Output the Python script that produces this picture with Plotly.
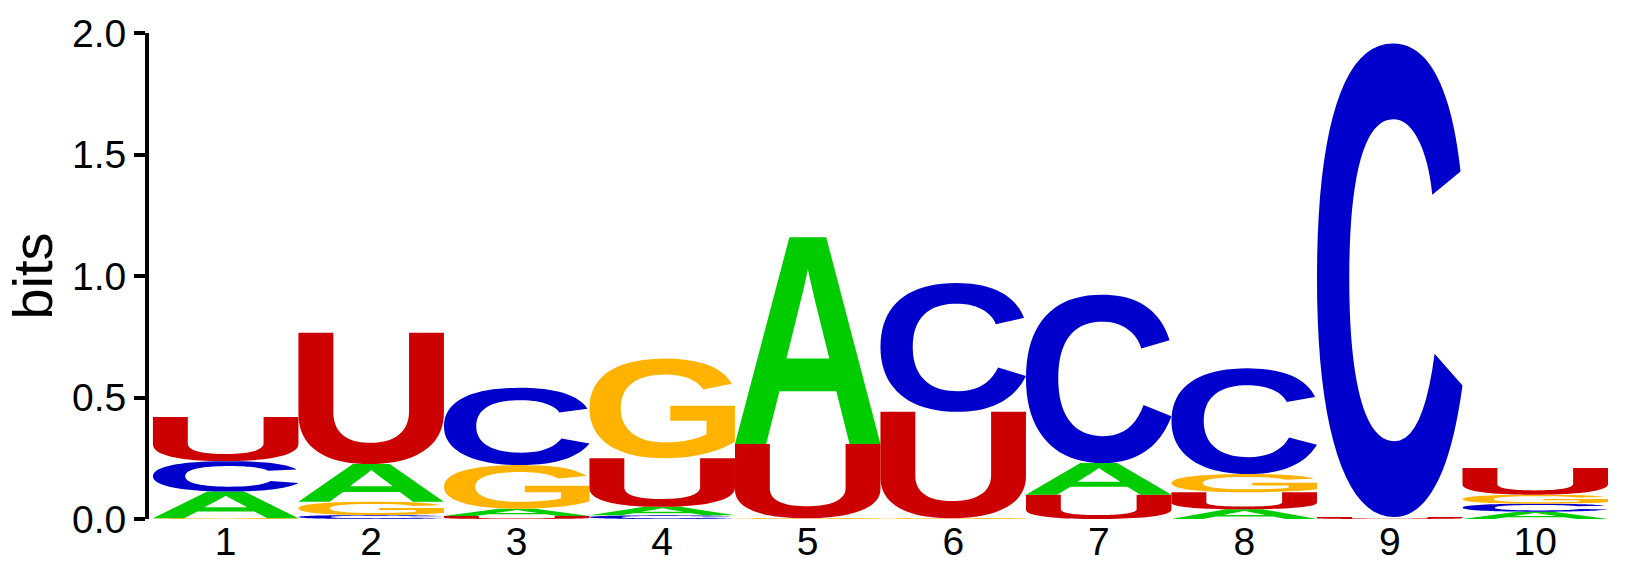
import glob
import os
import struct

import numpy as np
import plotly.graph_objects as go

# ---------------- data (bits per letter, per position) ----------------
positions = [1, 2, 3, 4, 5, 6, 7, 8, 9, 10]
tick_labels = ["1", "2", "3", "4", "5", "6", "7", "8", "9", "10"]
A_bits = [0.110, 0.155, 0.030, 0.035, 0.850, 0.000, 0.130, 0.040, 0.000, 0.030]
C_bits = [0.125, 0.016, 0.318, 0.015, 0.000, 0.530, 0.693, 0.435, 1.949, 0.033]
G_bits = [0.003, 0.055, 0.180, 0.410, 0.003, 0.003, 0.000, 0.075, 0.000, 0.037]
U_bits = [0.182, 0.540, 0.012, 0.200, 0.306, 0.438, 0.100, 0.070, 0.008, 0.110]
y_ticks = [0.0, 0.5, 1.0, 1.5, 2.0]
y_tick_labels = ["0.0", "0.5", "1.0", "1.5", "2.0"]

letter_colors = {"A": "#00CC00", "C": "#0000CC", "G": "#FFB300", "U": "#CC0000"}


# ---------------- glyph outlines from an installed bold sans font ----------------
def find_font():
    pats = ["LiberationSans-Bold.ttf", "Arial_Bold.ttf", "DejaVuSans-Bold.ttf"]
    roots = ["/usr/share/fonts", "/usr/local/share/fonts", os.path.expanduser("~/.fonts")]
    for p in pats:
        for r in roots:
            hits = glob.glob(os.path.join(r, "**", p), recursive=True)
            if hits:
                return hits[0]
    return None


def quad_pts(p0, c, p1, n=10):
    t = np.linspace(0, 1, n + 1)[1:]
    x = (1 - t) ** 2 * p0[0] + 2 * (1 - t) * t * c[0] + t ** 2 * p1[0]
    y = (1 - t) ** 2 * p0[1] + 2 * (1 - t) * t * c[1] + t ** 2 * p1[1]
    return list(zip(x, y))


def contour_to_poly(pts):
    start = next((i for i, p in enumerate(pts) if p[2]), None)
    if start is None:
        mid = ((pts[0][0] + pts[-1][0]) / 2, (pts[0][1] + pts[-1][1]) / 2, True)
        pts = [mid] + pts
        start = 0
    pts = pts[start:] + pts[:start]
    cur = (pts[0][0], pts[0][1])
    out = [cur]
    ctrl = None
    for p in pts[1:] + [pts[0]]:
        q = (p[0], p[1])
        if p[2]:
            if ctrl is None:
                out.append(q)
            else:
                out.extend(quad_pts(cur, ctrl, q))
                ctrl = None
            cur = q
        else:
            if ctrl is None:
                ctrl = q
            else:
                mid = ((ctrl[0] + q[0]) / 2, (ctrl[1] + q[1]) / 2)
                out.extend(quad_pts(cur, ctrl, mid))
                cur = mid
                ctrl = q
    return out


def load_glyphs(path, chars):
    data = open(path, "rb").read()
    num_tables = struct.unpack(">H", data[4:6])[0]
    tables = {}
    for i in range(num_tables):
        tag, _, off, ln = struct.unpack(">4sIII", data[12 + 16 * i:28 + 16 * i])
        tables[tag.decode("latin1")] = off
    head = tables["head"]
    loc_fmt = struct.unpack(">h", data[head + 50:head + 52])[0]
    cmap = tables["cmap"]
    nsub = struct.unpack(">H", data[cmap + 2:cmap + 4])[0]
    sub = None
    for i in range(nsub):
        pid, eid, off = struct.unpack(">HHI", data[cmap + 4 + 8 * i:cmap + 12 + 8 * i])
        fmt = struct.unpack(">H", data[cmap + off:cmap + off + 2])[0]
        if fmt == 4 and pid in (0, 3):
            sub = cmap + off
            break
    segx2 = struct.unpack(">H", data[sub + 6:sub + 8])[0]
    seg = segx2 // 2
    ends = struct.unpack(">%dH" % seg, data[sub + 14:sub + 14 + segx2])
    starts = struct.unpack(">%dH" % seg, data[sub + 16 + segx2:sub + 16 + 2 * segx2])
    deltas = struct.unpack(">%dh" % seg, data[sub + 16 + 2 * segx2:sub + 16 + 3 * segx2])
    rpos = sub + 16 + 3 * segx2
    roffs = struct.unpack(">%dH" % seg, data[rpos:rpos + segx2])

    def gid(ch):
        code = ord(ch)
        for i in range(seg):
            if starts[i] <= code <= ends[i]:
                if roffs[i] == 0:
                    return (code + deltas[i]) & 0xFFFF
                addr = rpos + 2 * i + roffs[i] + 2 * (code - starts[i])
                g = struct.unpack(">H", data[addr:addr + 2])[0]
                return (g + deltas[i]) & 0xFFFF if g else 0
        return 0

    loca, glyf = tables["loca"], tables["glyf"]

    def loc(i):
        if loc_fmt == 0:
            return struct.unpack(">H", data[loca + 2 * i:loca + 2 * i + 2])[0] * 2
        return struct.unpack(">I", data[loca + 4 * i:loca + 4 * i + 4])[0]

    result = {}
    for ch in chars:
        g0 = glyf + loc(gid(ch))
        nc, xmin, ymin, xmax, ymax = struct.unpack(">hhhhh", data[g0:g0 + 10])
        p = g0 + 10
        end_pts = struct.unpack(">%dH" % nc, data[p:p + 2 * nc])
        p += 2 * nc
        ilen = struct.unpack(">H", data[p:p + 2])[0]
        p += 2 + ilen
        npts = end_pts[-1] + 1
        flags = []
        while len(flags) < npts:
            f = data[p]
            p += 1
            flags.append(f)
            if f & 8:
                r = data[p]
                p += 1
                flags.extend([f] * r)
        xs, v = [], 0
        for f in flags:
            if f & 2:
                d = data[p]
                p += 1
                v += d if f & 16 else -d
            elif not f & 16:
                v += struct.unpack(">h", data[p:p + 2])[0]
                p += 2
            xs.append(v)
        ys, v = [], 0
        for f in flags:
            if f & 4:
                d = data[p]
                p += 1
                v += d if f & 32 else -d
            elif not f & 32:
                v += struct.unpack(">h", data[p:p + 2])[0]
                p += 2
            ys.append(v)
        contours, s = [], 0
        for e in end_pts:
            pts = [(xs[k], ys[k], bool(flags[k] & 1)) for k in range(s, e + 1)]
            s = e + 1
            poly = contour_to_poly(pts)
            poly = [((x - xmin) / (xmax - xmin), (y - ymin) / (ymax - ymin)) for x, y in poly]
            contours.append(poly)
        result[ch] = contours
    return result


def fallback_glyphs():
    t = np.linspace(0.35, 2 * np.pi - 0.35, 60)
    outer = list(zip(0.5 + 0.5 * np.cos(t), 0.5 + 0.5 * np.sin(t)))
    inner = list(zip(0.55 + 0.28 * np.cos(t[::-1]), 0.5 + 0.3 * np.sin(t[::-1])))
    c = [outer + inner]
    tb = np.linspace(np.pi, 2 * np.pi, 30)
    u = [[(0, 1), (0, 0.45)] + list(zip(0.5 + 0.5 * np.cos(tb), 0.45 + 0.45 * np.sin(tb)))
         + [(1, 0.45), (1, 1), (0.72, 1), (0.72, 0.45)]
         + list(zip(0.5 + 0.22 * np.cos(tb[::-1]), 0.45 + 0.25 * np.sin(tb[::-1]))) + [(0.28, 0.45), (0.28, 1)]]
    a = [[(0, 0), (0.38, 1), (0.62, 1), (1, 0), (0.72, 0), (0.64, 0.22), (0.36, 0.22), (0.28, 0)],
         [(0.42, 0.4), (0.58, 0.4), (0.5, 0.72)]]
    g = [outer + inner + [(0.6, 0.42), (1, 0.42), (1, 0.2)]]
    return {"A": a, "C": c, "G": g, "U": u}


font_path = find_font()
try:
    glyphs = load_glyphs(font_path, "ACGU") if font_path else fallback_glyphs()
except Exception:
    glyphs = fallback_glyphs()

# ---------------- build stacked letter shapes ----------------
letter_bits = {"A": A_bits, "C": C_bits, "G": G_bits, "U": U_bits}
shapes = []
for i, pos in enumerate(positions):
    stack = sorted(letter_bits.keys(), key=lambda k: letter_bits[k][i])
    base = 0.0
    for letter in stack:
        h = letter_bits[letter][i]
        if h <= 0:
            continue
        parts = []
        for contour in glyphs[letter]:
            pts = ["%.5f,%.6f" % (pos - 0.5 + gx, base + gy * h) for gx, gy in contour]
            parts.append("M" + " L".join(pts) + " Z")
        shapes.append(dict(type="path", xref="x", yref="y", path=" ".join(parts),
                           fillcolor=letter_colors[letter], line=dict(width=0), layer="above"))
        base += h

totals = [sum(letter_bits[k][i] for k in letter_bits) for i in range(len(positions))]

fig = go.Figure()
fig.add_trace(go.Scatter(x=positions, y=totals, mode="markers", marker=dict(opacity=0),
                         hoverinfo="skip", showlegend=False))

font_family = "Liberation Sans, Arial, sans-serif"
fig.update_layout(
    width=1630, height=565,
    margin=dict(l=149, r=22, t=30, b=46),
    plot_bgcolor="white", paper_bgcolor="white",
    shapes=shapes,
    showlegend=False,
    font=dict(family=font_family, color="black"),
    xaxis=dict(range=[0.473, 10.5], tickmode="array", tickvals=positions, ticktext=tick_labels,
               showline=False, showgrid=False, zeroline=False, ticks="", automargin=False,
               ticklabelstandoff=-4,
               tickfont=dict(size=39, family=font_family, color="black")),
    yaxis=dict(range=[0, 2], tickmode="array", tickvals=y_ticks, ticktext=y_tick_labels,
               showline=True, linecolor="black", linewidth=4, ticks="outside", ticklen=11,
               tickwidth=4, tickcolor="black", showgrid=False, zeroline=False,
               tickfont=dict(size=39, family=font_family, color="black"),
               title=dict(text="bits", font=dict(size=56, family=font_family, color="black"),
                          standoff=2)),
)

fig.write_html("out.html", config={"displayModeBar": False},
               post_script="document.body.style.margin='0';")
